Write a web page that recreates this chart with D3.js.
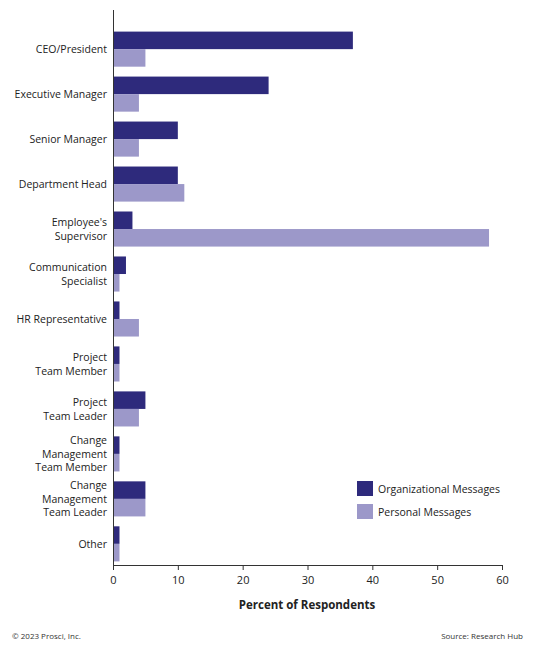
<!DOCTYPE html>
<html><head><meta charset="utf-8">
<script src="https://cdn.jsdelivr.net/npm/d3@7"></script>
<style>body{margin:0;background:#fff;font-family:"Open Sans",Lato,sans-serif}</style>
</head><body><svg id="c" width="533" height="650"></svg>
<script>
const categories=[["CEO/President"],["Executive Manager"],["Senior Manager"],["Department Head"],["Employee's","Supervisor"],["Communication","Specialist"],["HR Representative"],["Project","Team Member"],["Project","Team Leader"],["Change","Management","Team Member"],["Change","Management","Team Leader"],["Other"]];
const orgValues=[37,24,10,10,3,2,1,1,5,1,5,1];
const personalValues=[5,4,4,11,58,1,4,1,4,1,5,1];
const ticks=[0,10,20,30,40,50,60];
const colors={org:"#2e2a7c",per:"#9c98c9"};
const svg=d3.select("#c");
const x=d3.scaleLinear().domain([0,60]).range([113,502]);
const y=d3.scaleBand().domain(d3.range(categories.length)).range([28,565]).paddingInner(0.22).paddingOuter(0.08);
const bh=y.bandwidth()/2;
const g=svg.append("g");
categories.forEach((c,i)=>{
  g.append("rect").attr("x",x(0)).attr("y",y(i)).attr("width",x(orgValues[i])-x(0)).attr("height",bh).attr("fill",colors.org);
  g.append("rect").attr("x",x(0)).attr("y",y(i)+bh).attr("width",x(personalValues[i])-x(0)).attr("height",bh).attr("fill",colors.per);
  const cy=y(i)+y.bandwidth()/2, n=c.length;
  c.forEach((l,j)=>g.append("text").attr("text-anchor","end").attr("font-size",10.5).attr("fill","#222")
    .attr("x",107).attr("y",cy+4+(j-(n-1)/2)*13.5).text(l));
});
svg.append("line").attr("x1",113.5).attr("x2",113.5).attr("y1",10).attr("y2",565).attr("stroke","#333");
const ax=svg.append("g").attr("transform","translate(0,565)").call(d3.axisBottom(x).tickValues(ticks).tickSize(5).tickPadding(6));
ax.selectAll("text").attr("font-size",11).attr("fill","#222").attr("font-family","Open Sans");
ax.selectAll("line,path").attr("stroke","#333");
svg.append("text").attr("x",307).attr("y",609).attr("text-anchor","middle").attr("font-size",11.5).attr("font-weight","bold").attr("fill","#222").text("Percent of Respondents");
svg.append("text").attr("x",12).attr("y",639).attr("font-size",8).attr("fill","#333").text("© 2023 Prosci, Inc.");
svg.append("text").attr("x",523).attr("y",639).attr("text-anchor","end").attr("font-size",8).attr("fill","#333").text("Source: Research Hub");
[["Organizational Messages",colors.org],["Personal Messages",colors.per]].forEach((d,i)=>{
  svg.append("rect").attr("x",357).attr("y",481+i*23).attr("width",16).attr("height",15).attr("fill",d[1]);
  svg.append("text").attr("x",378).attr("y",493+i*23).attr("font-size",10.5).attr("fill","#222").text(d[0]);
});
</script></body></html>
